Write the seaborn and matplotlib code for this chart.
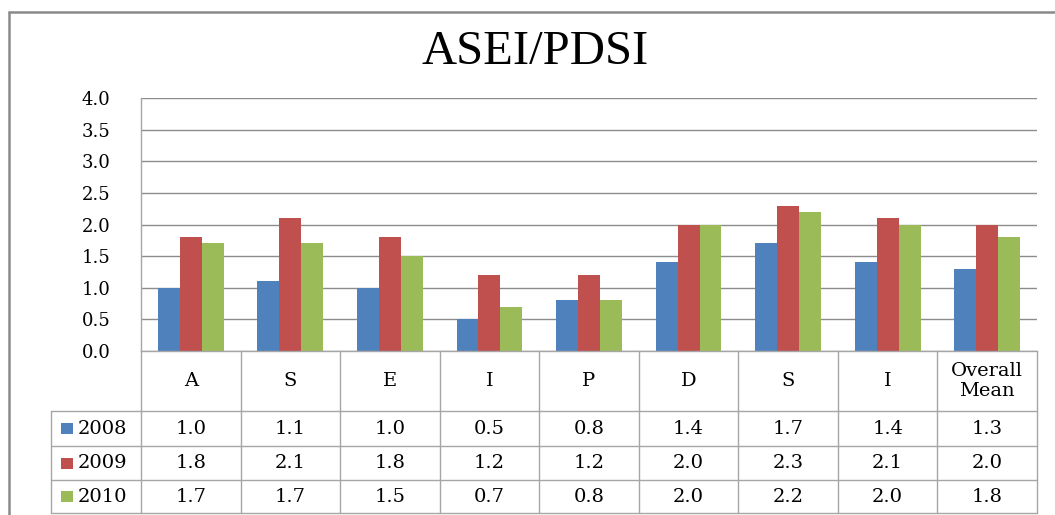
import numpy as np
import pandas as pd
import matplotlib
matplotlib.use("Agg")
import matplotlib.pyplot as plt
import matplotlib.transforms as mtransforms
from matplotlib.lines import Line2D
from matplotlib.patches import Rectangle
import seaborn as sns

# ---------------- data ----------------
title = "ASEI/PDSI"
categories = ["A", "S", "E", "I", "P", "D", "S", "I", "Overall\nMean"]
years = ["2008", "2009", "2010"]
v2008 = [1.0, 1.1, 1.0, 0.5, 0.8, 1.4, 1.7, 1.4, 1.3]
v2009 = [1.8, 2.1, 1.8, 1.2, 1.2, 2.0, 2.3, 2.1, 2.0]
v2010 = [1.7, 1.7, 1.5, 0.7, 0.8, 2.0, 2.2, 2.0, 1.8]
yticks = [0.0, 0.5, 1.0, 1.5, 2.0, 2.5, 3.0, 3.5, 4.0]
colors = ["#4F81BD", "#C0504D", "#9BBB59"]

series = [v2008, v2009, v2010]
rows = []
for yr, vals in zip(years, series):
    for i, v in enumerate(vals):
        rows.append({"pos": i, "value": v, "year": yr})
df = pd.DataFrame(rows)

# ---------------- figure ----------------
sns.set_style("white")
plt.rcParams["font.family"] = ["DejaVu Serif"]
plt.rcParams["text.color"] = "black"
plt.rcParams["ytick.color"] = "black"
plt.rcParams["ytick.labelcolor"] = "black"

W, H = 1055, 515
fig = plt.figure(figsize=(W / 100, H / 100), dpi=100)
fig.patch.set_facecolor("white")

def fx(px):
    return px / W

def fy(py):
    return 1 - py / H

L, R, T, B = 141, 1037, 98, 351
ax = fig.add_axes([fx(L), fy(B), fx(R - L), (B - T) / H])

sns.barplot(data=df, x="pos", y="value", hue="year", hue_order=years,
            palette=colors, width=0.66, gap=0, saturation=1,
            errorbar=None, legend=False, ax=ax, linewidth=0)

grid_c = "#8c8c8c"
tab_c = "#a6a6a6"
ax.set_xlim(-0.5, len(categories) - 0.5)
ax.set_ylim(0, 4)
ax.set_yticks(yticks)
ax.set_yticklabels([f"{t:.1f}" for t in yticks], fontsize=13, color="black")
ax.yaxis.grid(True, color=grid_c, lw=1)
ax.set_axisbelow(True)
ax.set_xticks([])
ax.set_xlabel("")
ax.set_ylabel("")
ax.tick_params(axis="y", length=0, pad=22)
for s in ["top", "right"]:
    ax.spines[s].set_visible(False)
ax.spines["left"].set_color(tab_c)
ax.spines["bottom"].set_color(tab_c)
ax.spines["left"].set_linewidth(1)
ax.spines["bottom"].set_linewidth(1)

# ---------------- data table ----------------
blend = mtransforms.blended_transform_factory(ax.transData, fig.transFigure)
y_head_top, y_head_bot = 351, 411
row_lines = [411, 446, 480, 513]
n = len(categories)

for k in range(n + 1):
    fig.add_artist(Line2D([k - 0.5, k - 0.5], [fy(y_head_top), fy(513)],
                          transform=blend, color=tab_c, lw=1))
fig.add_artist(Line2D([fx(51), fx(51)], [fy(411), fy(513)],
                      transform=fig.transFigure, color=tab_c, lw=1))
for yl in row_lines:
    fig.add_artist(Line2D([fx(51), fx(R)], [fy(yl), fy(yl)],
                          transform=fig.transFigure, color=tab_c, lw=1))

for i, c in enumerate(categories):
    fig.text(i, fy((y_head_top + y_head_bot) / 2), c, transform=blend,
             ha="center", va="center", fontsize=14, linespacing=1.2,
             color="black")

for r, (yr, vals, col) in enumerate(zip(years, series, colors)):
    yc = (row_lines[r] + row_lines[r + 1]) / 2
    for i, v in enumerate(vals):
        fig.text(i, fy(yc), f"{v:.1f}", transform=blend,
                 ha="center", va="center", fontsize=14, color="black")
    fig.add_artist(Rectangle((fx(61), fy(yc + 5.5)), fx(12), 11 / H,
                             transform=fig.transFigure, color=col, lw=0))
    fig.text(fx(78), fy(yc), yr, ha="left", va="center", fontsize=14,
             color="black")

# ---------------- title & frame ----------------
fig.text(fx(535), fy(52), title, ha="center", va="center",
         family=["Liberation Serif"], fontsize=35, color="black")

frame_c = "#8a8a8a"
fig.add_artist(Line2D([fx(9), fx(W)], [fy(12), fy(12)],
                      transform=fig.transFigure, color=frame_c, lw=1.8))
fig.add_artist(Line2D([fx(9), fx(9)], [fy(12), fy(H)],
                      transform=fig.transFigure, color=frame_c, lw=1.8))

fig.savefig("out.png", dpi=100, facecolor="white")
